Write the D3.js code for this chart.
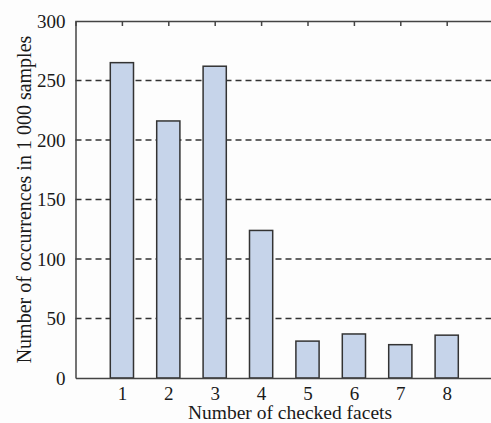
<!DOCTYPE html>
<html lang="en">
<head>
  <meta charset="UTF-8">
  <title>Number of checked facets</title>
  <style>
    html, body { margin: 0; background: #fdfdfd; }
    text { font-family: 'Liberation Serif', 'Times New Roman', serif; fill: #1a1a1a; }
    .grid line { stroke: #333; stroke-width: 1.4px; stroke-dasharray: 6 4; }
    .bar { fill: #c6d4ea; stroke: #333; stroke-width: 1.5px; }
    .frame { stroke: #444; stroke-width: 1.5px; fill: none; }
  </style>
</head>
<body>
<svg id="chart" width="491" height="423" viewBox="0 0 491 423"></svg>
<script src="https://d3js.org/d3.v7.min.js"></script>
<script>

const facets = [1, 2, 3, 4, 5, 6, 7, 8];
const counts = [265, 216, 262, 124, 31, 37, 28, 36];
const yTicks = [0, 50, 100, 150, 200, 250, 300];
const gridTicks = [50, 100, 150, 200, 250];

const svg = d3.select("#chart"),
    margin = {top: 21, left: 75.5},
    height = 357,
    step = 46.4;

const x = d3.scaleLinear().domain([0, 9]).range([margin.left, margin.left + 9 * step]);
const y = d3.scaleLinear().domain([0, 300]).range([margin.top + height, margin.top]);
const barW = step * 0.5;

// dashed grid behind the bars
svg.append("g")
    .attr("class", "grid")
  .selectAll("line")
  .data(gridTicks)
  .enter().append("line")
    .attr("x1", x(0))
    .attr("x2", 491)
    .attr("y1", d => y(d))
    .attr("y2", d => y(d));

svg.append("g")
  .selectAll("rect")
  .data(facets)
  .enter().append("rect")
    .attr("class", "bar")
    .attr("x", (d) => x(d) - barW / 2)
    .attr("width", barW)
    .attr("y", (d, i) => y(counts[i]))
    .attr("height", (d, i) => y(0) - y(counts[i]));

// axes, matlab style: inward ticks, mirrored on top
const yAxis = d3.axisLeft(y).tickValues(yTicks).tickSize(0).tickPadding(10);
const xAxis = d3.axisBottom(x).tickValues(facets).tickSize(0).tickPadding(8.5);
const xTop = d3.axisTop(x).tickValues(facets).tickSize(-5).tickFormat("");

const gy = svg.append("g")
    .attr("transform", "translate(" + x(0) + ",0)")
    .call(yAxis);
const gx = svg.append("g")
    .attr("transform", "translate(0," + y(0) + ")")
    .call(xAxis);
const gt = svg.append("g")
    .attr("transform", "translate(0," + y(300) + ")")
    .call(xTop);

[gy, gx, gt].forEach(g => {
  g.select(".domain").attr("class", "frame");
  g.selectAll(".tick line").attr("stroke", "#444").attr("stroke-width", 1.5);
  g.selectAll("text").style("font-size", "19px").attr("fill", "#1a1a1a");
});
gy.selectAll("text").attr("dy", "0.34em");
gx.selectAll("text").attr("dy", "0.71em");

svg.append("text")
    .attr("x", 290)
    .attr("y", 419)
    .attr("text-anchor", "middle")
    .style("font-size", "19.5px")
    .text("Number of checked facets");

svg.append("text")
    .attr("transform", "translate(31," + (margin.top + height / 2) + ") rotate(-90)")
    .attr("text-anchor", "middle")
    .style("font-size", "20px")
    .text("Number of occurrences in 1 000 samples");

</script>
</body>
</html>
